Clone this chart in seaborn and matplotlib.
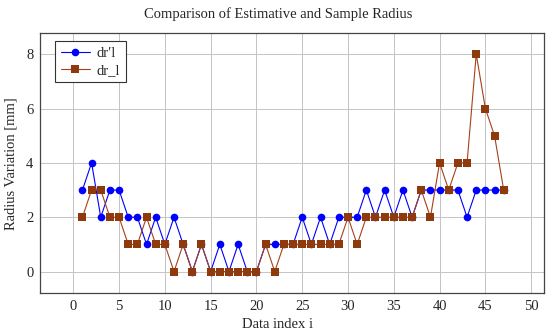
import numpy as np
import pandas as pd
import matplotlib
matplotlib.use("Agg")
import matplotlib.pyplot as plt
import seaborn as sns

# 数据
idx = list(range(1, 48))
dr_prime = [3, 4, 2, 3, 3, 2, 2, 1, 2, 1, 2, 1, 0, 1, 0, 1, 0, 1, 0, 0,
            1, 1, 1, 1, 2, 1, 2, 1, 2, 2, 2, 3, 2, 3, 2, 3, 2, 3, 3, 3,
            3, 3, 2, 3, 3, 3, 3]
dr_l = [2, 3, 3, 2, 2, 1, 1, 2, 1, 1, 0, 1, 0, 1, 0, 0, 0, 0, 0, 0,
        1, 0, 1, 1, 1, 1, 1, 1, 1, 2, 1, 2, 2, 2, 2, 2, 2, 3, 2, 4,
        3, 4, 4, 8, 6, 5, 3]
x_ticks = [0, 5, 10, 15, 20, 25, 30, 35, 40, 45, 50]
y_ticks = [0, 2, 4, 6, 8]

sns.set_theme(style="whitegrid")
plt.rcParams['font.family'] = ['Liberation Serif', 'DejaVu Serif']

df = pd.DataFrame({"i": idx, "dr′l": dr_prime, "dr_l": dr_l})

fig = plt.figure(figsize=(5.5, 3.34), dpi=100)
ax = fig.add_axes([40.3 / 550, 1 - 293.3 / 334, (544 - 40.3) / 550, (293.3 - 33) / 334])

sns.lineplot(data=df, x="i", y="dr′l", ax=ax, color="#0000ff", marker="o",
             markersize=5.5, markeredgewidth=0, linewidth=0.8, label="dr′l")
sns.lineplot(data=df, x="i", y="dr_l", ax=ax, color="#a8401a", marker="s",
             markersize=5.2, markeredgewidth=0, markerfacecolor="#8f3a0c",
             linewidth=0.8, label="dr_l")

ax.set_xlim(-3.6, 51.4)
ax.set_ylim(-0.8, 8.78)
ax.set_xticks(x_ticks)
ax.set_yticks(y_ticks)
ax.tick_params(labelsize=10.5, length=0, pad=5)
ax.grid(True, color="#c4c4c4", linewidth=0.7)
for s in ax.spines.values():
    s.set_color("#444444")
    s.set_linewidth(0.9)

# 标题和 x 轴标签以整张图为中心
ax.set_title("Comparison of Estimative and Sample Radius", fontsize=10.5, pad=11,
             x=(278 - 40.3) / 503.7)
ax.set_xlabel("Data index i", fontsize=10.5, labelpad=3)
ax.xaxis.set_label_coords((278 - 40.3) / 503.7, -0.095)
ax.set_ylabel("Radius Variation [mm]", fontsize=10.5, labelpad=6)

leg = ax.legend(loc="upper left", bbox_to_anchor=(0.03, 0.968), borderaxespad=0,
                fontsize=10.5, frameon=True, fancybox=False, framealpha=1,
                edgecolor="#333333", handlelength=2.0, borderpad=0.35,
                labelspacing=0.3, handletextpad=0.5)
leg.get_frame().set_linewidth(0.8)

fig.savefig("out.png", dpi=100)
